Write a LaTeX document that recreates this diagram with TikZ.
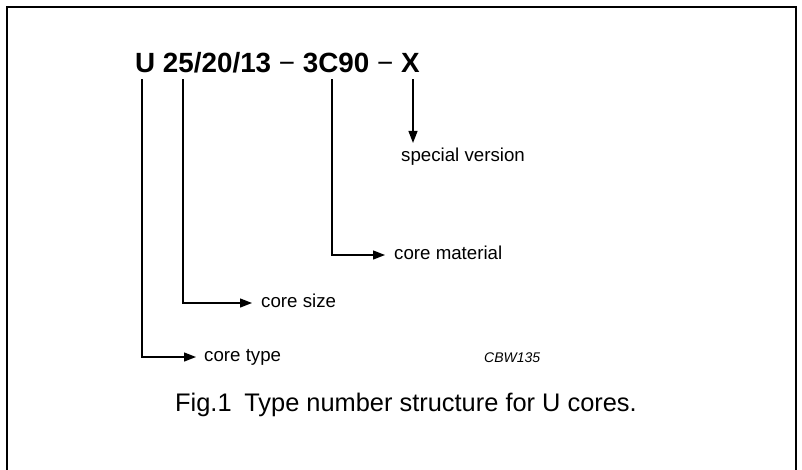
\documentclass[tikz,border=0pt]{standalone}
\usepackage{fontspec}
\setmainfont{Liberation Sans}
\usetikzlibrary{arrows.meta}
\begin{document}
\begin{tikzpicture}[x=1pt,y=-1pt,
  conn/.style={line width=1.3pt},
  arr/.style={conn,-{Triangle[length=12pt,width=9pt]}},
  lbl/.style={inner sep=0pt,anchor=west,text height=9.7pt,text depth=0pt,font=\fontsize{18.7}{22}\selectfont},
  frame/.style={line width=2.2pt}]
\useasboundingbox (0,0) rectangle (802,469);
% frame, open at the bottom
\draw[frame] (7,475) -- (7,7) -- (796,7) -- (796,475);
% title
\node[inner sep=0pt,anchor=base west,font=\fontsize{27.8}{33}\selectfont\bfseries] (title) at (135,72)
  {U 25/20/13 \textmd{−} 3C90 \textmd{−} X};
\coordinate (cU) at (142,79);
\coordinate (cS) at (183,79);
\coordinate (cM) at (332,79);
\coordinate (cX) at (413,79);
% labels
\node[lbl] (sv) at (401,157) {special version};
\node[lbl] (cmat) at (394,255) {core material};
\node[lbl] (csize) at (261,303) {core size};
\node[lbl] (ctype) at (204,357) {core type};
% connectors
\draw[arr] (cX) -- ([yshift=9pt]cX |- sv.north);
\draw[arr] (cM) |- ([xshift=-9pt]cmat.west);
\draw[arr] (cS) |- ([xshift=-9pt]csize.west);
\draw[arr] (cU) |- ([xshift=-8pt]ctype.west);
% code
\node[inner sep=0pt,anchor=base west,font=\fontsize{14}{16}\selectfont\itshape] (code) at (484,362) {CBW135};
% caption
\node[inner sep=0pt,anchor=base west,font=\fontsize{25.4}{30}\selectfont] (cap) at (175,411)
  {Fig.1\hspace{0.5em}Type number structure for U cores.};
\end{tikzpicture}
\end{document}
